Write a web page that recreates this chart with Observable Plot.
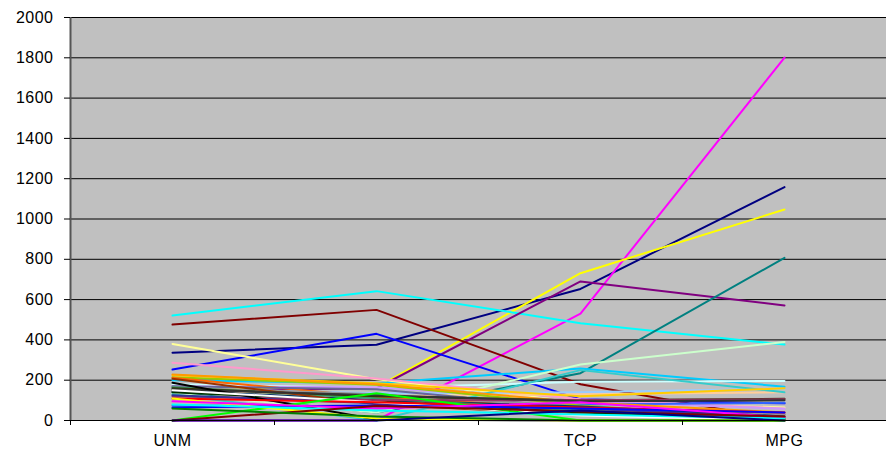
<!DOCTYPE html>
<html><head><meta charset="utf-8">
<script src="https://cdn.jsdelivr.net/npm/d3@7"></script>
<script src="https://cdn.jsdelivr.net/npm/@observablehq/plot@0.6"></script>
<style>html,body{margin:0;padding:0;background:#fff} svg{display:block} svg text{letter-spacing:0.5px}</style>
</head><body><div id="chart"></div>
<script>
const categories = ["UNM", "BCP", "TCP", "MPG"];
const yTicks = [0, 200, 400, 600, 800, 1000, 1200, 1400, 1600, 1800, 2000];

const s01 = [336, 376, 653, 1158];
const s02 = [0, 0, 530, 1801];
const s03 = [150, 165, 731, 1047];
const s04 = [521, 642, 483, 377];
const s05 = [145, 160, 690, 571];
const s06 = [476, 549, 180, 0];
const s07 = [140, 40, 235, 807];
const s08 = [253, 430, 105, 85];
const s09 = [200, 185, 258, 168];
const s10 = [180, 162, 192, 196];
const s11 = [135, 40, 278, 390];
const s12 = [380, 205, 90, 65];
const s13 = [160, 135, 140, 158];
const s14 = [286, 208, 105, 60];
const s15 = [170, 165, 95, 58];
const s16 = [150, 120, 130, 140];
const s17 = [75, 70, 80, 88];
const s18 = [130, 0, 250, 140];
const s19 = [215, 178, 75, 10];
const s20 = [225, 185, 120, 160];
const s21 = [228, 180, 90, 40];
const s22 = [212, 115, 60, 20];
const s23 = [170, 155, 60, 30];
const s24 = [165, 130, 70, 30];
const s25 = [150, 100, 70, 20];
const s26 = [165, 110, 50, 10];
const s27 = [140, 95, 40, 5];
const s28 = [160, 120, 100, 108];
const s29 = [207, 80, 30, 0];
const s30 = [120, 100, 100, 105];
const s31 = [125, 85, 60, 15];
const s32 = [155, 125, 95, 100];
const s33 = [187, 5, 0, 0];
const s34 = [150, 90, 25, 0];
const s35 = [109, 90, 65, 40];
const s36 = [0, 135, 0, 0];
const s37 = [65, 75, 60, 40];
const s38 = [109, 10, 0, 0];
const s39 = [95, 60, 90, 15];
const s40 = [80, 50, 30, 10];
const s41 = [0, 72, 45, 20];
const s42 = [60, 20, 0, 0];
const s43 = [0, 0, 50, 0];

const seriesValues = [s01, s02, s03, s04, s05, s06, s07, s08, s09, s10,
  s11, s12, s13, s14, s15, s16, s17, s18, s19, s20,
  s21, s22, s23, s24, s25, s26, s27, s28, s29, s30,
  s31, s32, s33, s34, s35, s36, s37, s38, s39, s40,
  s41, s42, s43];
const seriesNames = seriesValues.map((_, i) => "Series" + (i + 1));

const palette = ["#000080", "#FF00FF", "#FFFF00", "#00FFFF", "#800080", "#800000", "#008080", "#0000FF",
  "#00CCFF", "#CCFFFF", "#CCFFCC", "#FFFF99", "#99CCFF", "#FF99CC", "#CC99FF", "#FFCC99",
  "#3366FF", "#33CCCC", "#99CC00", "#FFCC00", "#FF9900", "#FF6600", "#666699", "#969696",
  "#003366", "#339966", "#003300", "#333300", "#993300", "#993366", "#333399", "#333333",
  "#000000", "#FFFFFF", "#FF0000", "#00FF00", "#0000FF", "#FFFF00", "#FF00FF", "#00FFFF",
  "#800000", "#008000", "#000080"];

const rows = seriesValues.flatMap((vals, i) =>
  vals.map((v, j) => ({series: seriesNames[i], x: j, value: v})));
const centers = d3.range(categories.length);
const boundaries = d3.range(categories.length + 1).map(i => i - 0.5);

const chart = Plot.plot({
  width: 886,
  height: 464,
  marginLeft: 70,
  marginRight: 0,
  marginTop: 17,
  marginBottom: 44,
  style: {fontFamily: "'Liberation Sans', Arial, sans-serif", fontSize: "16px", color: "#000", background: "#fff", overflow: "visible"},
  x: {type: "linear", domain: [-0.5, categories.length - 0.5], label: null},
  y: {domain: [0, 2000], label: null},
  color: {type: "ordinal", domain: seriesNames, range: palette},
  marks: [
    Plot.frame({fill: "#c0c0c0", stroke: null}),
    Plot.ruleY(yTicks.slice(1), {stroke: "#000", strokeWidth: 1}),
    Plot.line(rows, {x: "x", y: "value", z: "series", stroke: "series", strokeWidth: 2}),
    Plot.ruleX([boundaries[0]], {stroke: "#555", strokeWidth: 2}),
    Plot.ruleY([0], {stroke: "#000", strokeWidth: 1}),
    Plot.axisY({ticks: yTicks, tickSize: 6, tickPadding: 11, stroke: "#000", fontSize: 16, tickFormat: d => String(d), label: null}),
    Plot.axisX({ticks: boundaries, tickSize: 5, tickFormat: () => "", stroke: "#000", label: null}),
    Plot.axisX({ticks: centers, tickSize: 0, tickPadding: 14, tickFormat: i => categories[i], fontSize: 16, label: null})
  ]
});
document.getElementById("chart").appendChild(chart);
</script>
</body></html>
